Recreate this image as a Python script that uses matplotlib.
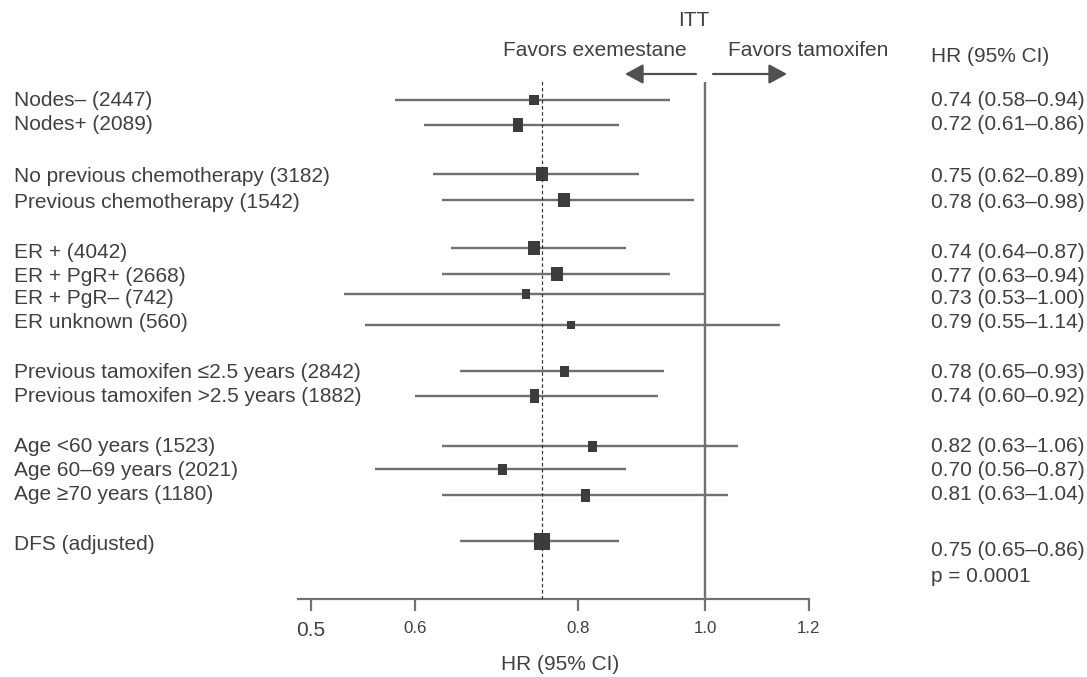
import matplotlib
matplotlib.use("Agg")
import matplotlib.pyplot as plt
from matplotlib.ticker import NullLocator, FixedLocator, FixedFormatter

plt.rcParams['font.family'] = ['Liberation Sans', 'DejaVu Sans']

# ---------------- data ----------------
subgroups = ["Nodes–", "Nodes+", "No previous chemotherapy", "Previous chemotherapy",
             "ER +", "ER + PgR+", "ER + PgR–", "ER unknown",
             "Previous tamoxifen ≤2.5 years", "Previous tamoxifen >2.5 years",
             "Age <60 years", "Age 60–69 years", "Age ≥70 years", "DFS (adjusted)"]
n_patients = [2447, 2089, 3182, 1542, 4042, 2668, 742, 560, 2842, 1882, 1523, 2021, 1180, None]
hr = [0.74, 0.72, 0.75, 0.78, 0.74, 0.77, 0.73, 0.79, 0.78, 0.74, 0.82, 0.70, 0.81, 0.75]
ci_low = [0.58, 0.61, 0.62, 0.63, 0.64, 0.63, 0.53, 0.55, 0.65, 0.60, 0.63, 0.56, 0.63, 0.65]
ci_high = [0.94, 0.86, 0.89, 0.98, 0.87, 0.94, 1.00, 1.14, 0.93, 0.92, 1.06, 0.87, 1.04, 0.86]
overall_hr = 0.75
p_text = "p = 0.0001"
x_ticks = [0.5, 0.6, 0.8, 1.0, 1.2]
x_tick_labels = ["0.5", "0.6", "0.8", "1.0", "1.2"]

# ---------------- layout (pixel rows from top) ----------------
W, H = 1087, 677
bar_y = [100, 125, 174, 200, 248, 274, 294, 325, 371, 396, 446, 469, 495, 541]
text_y = [101, 125, 177, 202, 252, 276, 298, 322, 373, 397, 447, 470, 494, 545]
right_text_y = [101, 125, 177, 202, 252, 276, 298, 322, 373, 397, 447, 470, 494, 550]
box_w = [10, 10, 12, 12, 12, 12, 9, 8, 9, 9, 9, 9, 9, 16]
box_h = [10, 14, 14, 14, 14, 14, 10, 8, 11, 14, 11, 11, 13, 17]

LINE = "#717171"
BOX = "#3c3c3c"
TXT = "#404040"
FS = 15
px2pt = 0.72

fig = plt.figure(figsize=(W / 100, H / 100), dpi=100)

# overlay axes in pixel coordinates for text
ax0 = fig.add_axes([0, 0, 1, 1])
ax0.set_xlim(0, W)
ax0.set_ylim(H, 0)
ax0.axis("off")

# main forest axes
ax_left, ax_right, ax_top, ax_bottom = 298, 809, 80, 599
ax = fig.add_axes([ax_left / W, (H - ax_bottom) / H, (ax_right - ax_left) / W, (ax_bottom - ax_top) / H])
ax.patch.set_alpha(0)
ax.set_xscale("log")
ax.set_xlim(0.4887, 1.2)
ax.set_ylim(ax_bottom, ax_top)
for s in ["top", "right", "left"]:
    ax.spines[s].set_visible(False)
ax.spines["bottom"].set_color(LINE)
ax.spines["bottom"].set_linewidth(2.2 * px2pt)
ax.yaxis.set_visible(False)
ax.xaxis.set_major_locator(FixedLocator(x_ticks))
ax.xaxis.set_major_formatter(FixedFormatter(x_tick_labels))
ax.xaxis.set_minor_locator(NullLocator())
ax.tick_params(axis="x", direction="out", length=12 * px2pt, width=2.2 * px2pt,
               color=LINE, labelcolor=TXT, labelsize=12.2, pad=7)
labels = ax.get_xticklabels()
labels[0].set_fontsize(FS)

# reference lines
ax.plot([1.0, 1.0], [ax_bottom, 82], color=LINE, lw=2.4 * px2pt, solid_capstyle="butt", zorder=1)
ax.plot([overall_hr, overall_hr], [ax_bottom, ax_top], color="#333333", lw=1.2 * px2pt,
        dashes=(4 * px2pt, 3 * px2pt), zorder=4)

# CIs and boxes
for i in range(len(hr)):
    ax.plot([ci_low[i], ci_high[i]], [bar_y[i], bar_y[i]], color=LINE, lw=2.4 * px2pt,
            solid_capstyle="butt", zorder=2)
    w, h = box_w[i], box_h[i]
    verts = [(-w / 2, -h / 2), (w / 2, -h / 2), (w / 2, h / 2), (-w / 2, h / 2), (-w / 2, -h / 2)]
    ax.plot([hr[i]], [bar_y[i]], marker=verts, markersize=max(w, h) * px2pt,
            color=BOX, markeredgewidth=0, linestyle="none", zorder=3)

# left labels
for i, name in enumerate(subgroups):
    lab = name if n_patients[i] is None else f"{name} ({n_patients[i]})"
    ax0.text(14, text_y[i], lab, fontsize=FS, color=TXT, ha="left", va="center")

# right column
ax0.text(931, 56, "HR (95% CI)", fontsize=FS, color=TXT, ha="left", va="center")
for i in range(len(hr)):
    ax0.text(931, right_text_y[i], f"{hr[i]:.2f} ({ci_low[i]:.2f}–{ci_high[i]:.2f})",
             fontsize=FS, color=TXT, ha="left", va="center")
ax0.text(931, 576, p_text, fontsize=FS, color=TXT, ha="left", va="center")

# header
ax0.text(694, 21, "ITT", fontsize=FS, color=TXT, ha="center", va="center")
ax0.text(595, 51, "Favors exemestane", fontsize=FS, color=TXT, ha="center", va="center")
ax0.text(808, 51, "Favors tamoxifen", fontsize=FS, color=TXT, ha="center", va="center")
arrow_kw = dict(arrowstyle="-|>,head_length=11,head_width=6", mutation_scale=1,
                color="#505050", lw=2.2 * px2pt, shrinkA=0, shrinkB=0)
ax0.annotate("", xy=(625, 74), xytext=(696, 74), arrowprops=arrow_kw)
ax0.annotate("", xy=(787, 74), xytext=(713, 74), arrowprops=arrow_kw)

# x axis title
ax0.text(560, 664, "HR (95% CI)", fontsize=FS, color=TXT, ha="center", va="center")

fig.savefig("out.png", dpi=100)
